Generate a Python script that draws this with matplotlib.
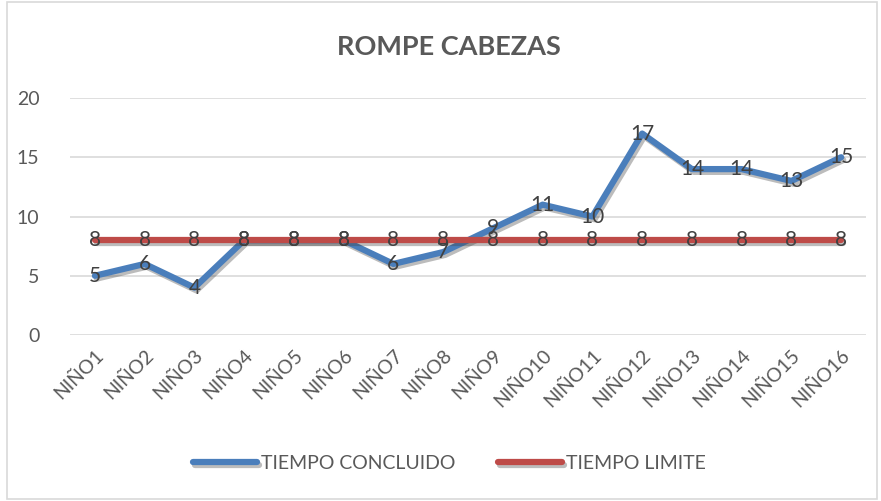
import matplotlib.pyplot as plt
import matplotlib.patheffects as pe
from matplotlib.patches import Rectangle

# Data
categorias = ["NIÑO1", "NIÑO2", "NIÑO3", "NIÑO4", "NIÑO5", "NIÑO6", "NIÑO7", "NIÑO8",
              "NIÑO9", "NIÑO10", "NIÑO11", "NIÑO12", "NIÑO13", "NIÑO14", "NIÑO15", "NIÑO16"]
tiempo_concluido = [5, 6, 4, 8, 8, 8, 6, 7, 9, 11, 10, 17, 14, 14, 13, 15]
tiempo_limite = [8, 8, 8, 8, 8, 8, 8, 8, 8, 8, 8, 8, 8, 8, 8, 8]
y_ticks = [0, 5, 10, 15, 20]

plt.rcParams['font.family'] = ['Lato', 'DejaVu Sans']
texto = '#595959'

fig = plt.figure(figsize=(8.81, 5.01), dpi=100)
ax = fig.add_axes([0.0795, 0.3313, 0.9035, 0.4731])

x = list(range(len(categorias)))
sombra = [pe.SimpleLineShadow(offset=(1.5, -2), alpha=0.35, shadow_color='#404040'), pe.Normal()]

ax.plot(x, tiempo_concluido, color='#4a7ebb', lw=4.5, solid_capstyle='round',
        solid_joinstyle='round', label='TIEMPO CONCLUIDO', path_effects=sombra, zorder=3)
ax.plot(x, tiempo_limite, color='#be4b48', lw=4.5, solid_capstyle='round',
        label='TIEMPO LIMITE', path_effects=sombra, zorder=3)

for i in x:
    ax.text(i, tiempo_concluido[i], str(tiempo_concluido[i]), ha='center', va='center',
            fontsize=15, color='#404040', zorder=5)
    ax.text(i, tiempo_limite[i], str(tiempo_limite[i]), ha='center', va='center',
            fontsize=15, color='#404040', zorder=5)

ax.set_xlim(-0.5, len(categorias) - 0.5)
ax.set_ylim(0, 20)
ax.set_yticks(y_ticks)
ax.set_xticks(x)
ax.set_xticklabels(categorias, rotation=45, ha='right', rotation_mode='anchor')
ax.tick_params(axis='both', length=0, labelsize=14, labelcolor=texto)
ax.tick_params(axis='y', pad=22)
ax.tick_params(axis='x', pad=8)
ax.grid(axis='y', color='#d9d9d9', lw=1.2)
ax.set_axisbelow(True)
for s in ax.spines.values():
    s.set_visible(False)

fig.suptitle('ROMPE CABEZAS', x=0.51, y=0.93, fontsize=19.5, fontweight='bold', color=texto)

leg = fig.legend(loc='center', bbox_to_anchor=(0.51, 0.075), ncol=2, frameon=False,
                 fontsize=14, handlelength=3.3, handletextpad=0.2, columnspacing=2.2,
                 labelcolor=texto)

fig.patches.append(Rectangle((0.008, 0.004), 0.987, 0.992, transform=fig.transFigure,
                             fill=False, edgecolor='#d9d9d9', lw=1.2))

fig.savefig('out.png', dpi=100)
